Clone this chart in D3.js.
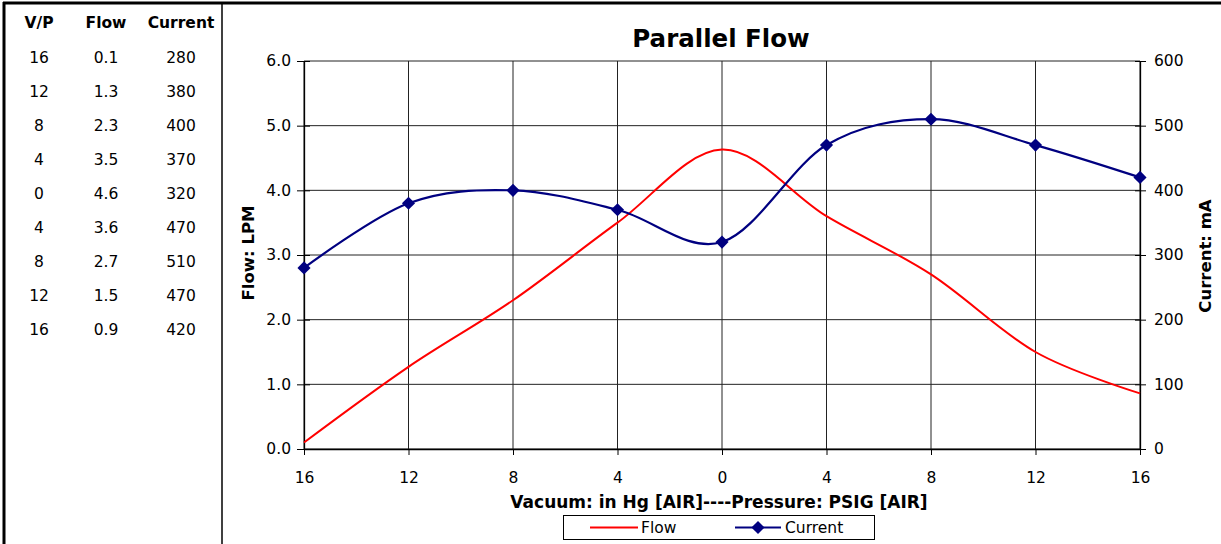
<!DOCTYPE html>
<html><head><meta charset="utf-8">
<script src="https://cdn.jsdelivr.net/npm/d3@7"></script>
<style>
body{margin:0;background:#fff;}
svg{display:block;font-family:"DejaVu Sans",Verdana,sans-serif;}
</style></head>
<body><svg id="c" width="1221" height="544"></svg>
<script>
const categories = ["16","12","8","4","0","4","8","12","16"];
const flowValues = [0.1, 1.27, 2.3, 3.5, 4.63, 3.6, 2.7, 1.5, 0.86];
const currentValues = [280, 380, 400, 370, 320, 470, 510, 470, 420];
const tableFlow = ["0.1","1.3","2.3","3.5","4.6","3.6","2.7","1.5","0.9"];
const leftTicks = [0,1,2,3,4,5,6];
const rightTicks = [0,100,200,300,400,500,600];

const FONT = "'DejaVu Sans',Verdana,sans-serif";
const svg = d3.select("#c");
const W = 1221, H = 544;
svg.append("rect").attr("width",W).attr("height",H).attr("fill","#fff");

// Table
const tbl = svg.append("g");
tbl.append("line").attr("x1",4).attr("x2",4).attr("y1",2).attr("y2",H).attr("stroke","#000").attr("stroke-width",3);
tbl.append("line").attr("x1",222).attr("x2",222).attr("y1",3).attr("y2",H).attr("stroke","#000").attr("stroke-width",1.5);
svg.append("line").attr("x1",3).attr("x2",W).attr("y1",3).attr("y2",3).attr("stroke","#000").attr("stroke-width",3);
const colX = [39,106,181];
const header = ["V/P","Flow","Current"];
header.forEach((h,i)=>tbl.append("text").attr("x",colX[i]).attr("y",28).attr("text-anchor","middle")
  .attr("font-size",15.5).attr("font-weight","bold").text(h));
categories.forEach((c,r)=>{
  const y = 63 + r*34;
  [c, tableFlow[r], String(currentValues[r])].forEach((t,i)=>tbl.append("text").attr("x",colX[i]).attr("y",y)
    .attr("text-anchor","middle").attr("font-size",15.5).text(t));
});

// Chart
const x0 = 304, x1 = 1140, yTop = 61, yBot = 449;
const x = d3.scalePoint().domain(d3.range(categories.length)).range([x0,x1]);
const yL = d3.scaleLinear().domain([0,6]).range([yBot,yTop]);
const yR = d3.scaleLinear().domain([0,600]).range([yBot,yTop]);

const g = svg.append("g");
g.selectAll(".hg").data(leftTicks).join("line").attr("x1",x0).attr("x2",x1)
  .attr("y1",d=>yL(d)).attr("y2",d=>yL(d)).attr("stroke","#222").attr("stroke-width",1);
g.selectAll(".vg").data(d3.range(categories.length)).join("line").attr("y1",yTop).attr("y2",yBot)
  .attr("x1",d=>x(d)).attr("x2",d=>x(d)).attr("stroke","#222").attr("stroke-width",1);

const axL = d3.axisLeft(yL).tickValues(leftTicks).tickFormat(d3.format(".1f")).tickSizeInner(7).tickSizeOuter(0);
const axR = d3.axisRight(yR).tickValues(rightTicks).tickFormat(d3.format("d")).tickSizeInner(6).tickSizeOuter(0);
const axB = d3.axisBottom(x).tickFormat(i=>categories[i]).tickSizeInner(6).tickSizeOuter(0);
function style(sel){
  sel.select(".domain").attr("stroke","#000").attr("stroke-width",1.3);
  sel.selectAll(".tick line").attr("stroke","#000");
  sel.selectAll(".tick text").attr("font-size",15.5).attr("fill","#000").attr("font-family",FONT);
}
const gL = g.append("g").attr("transform",`translate(${x0},0)`).call(axL).call(style);
gL.selectAll(".tick line").attr("x2",6).attr("x1",-7);
gL.selectAll(".tick text").attr("x",-13);
const gR = g.append("g").attr("transform",`translate(${x1},0)`).call(axR).call(style);
gR.selectAll(".tick line").attr("x1",-5).attr("x2",6);
gR.selectAll(".tick text").attr("x",14);
const gB = g.append("g").attr("transform",`translate(0,${yBot})`).call(axB).call(style);
gB.selectAll(".tick text").attr("y",23);

const curve = d3.curveCatmullRom.alpha(0);
const lineF = d3.line().x((d,i)=>x(i)).y(d=>yL(d)).curve(curve);
const lineC = d3.line().x((d,i)=>x(i)).y(d=>yR(d)).curve(curve);
g.append("path").attr("d",lineF(flowValues)).attr("fill","none").attr("stroke","#ff0000").attr("stroke-width",2);
g.append("path").attr("d",lineC(currentValues)).attr("fill","none").attr("stroke","#000080").attr("stroke-width",2.2);
const diamond = d3.symbol().type(d3.symbolDiamond2).size(110);
g.selectAll(".mk").data(currentValues).join("path").attr("d",diamond)
  .attr("transform",(d,i)=>`translate(${x(i)},${yR(d)})`).attr("fill","#000080");

svg.append("text").attr("x",721).attr("y",47).attr("text-anchor","middle").attr("font-size",24.5).attr("font-weight","bold").text("Parallel Flow");
svg.append("text").attr("transform","translate(254,253) rotate(-90)").attr("text-anchor","middle").attr("font-size",16.5).attr("font-weight","bold").text("Flow: LPM");
svg.append("text").attr("transform","translate(1211,256) rotate(-90)").attr("text-anchor","middle").attr("font-size",16.5).attr("font-weight","bold").text("Current: mA");
svg.append("text").attr("x",719).attr("y",508).attr("text-anchor","middle").attr("font-size",17).attr("font-weight","bold").text("Vacuum: in Hg [AIR]----Pressure: PSIG [AIR]");

const lg = svg.append("g");
lg.append("rect").attr("x",563.5).attr("y",515.5).attr("width",311).attr("height",24).attr("fill","#fff").attr("stroke","#000").attr("stroke-width",1);
lg.append("line").attr("x1",590).attr("x2",638).attr("y1",527.5).attr("y2",527.5).attr("stroke","#ff0000").attr("stroke-width",2);
lg.append("text").attr("x",641).attr("y",533).attr("font-size",15.5).text("Flow");
lg.append("line").attr("x1",735).attr("x2",781).attr("y1",527.5).attr("y2",527.5).attr("stroke","#000080").attr("stroke-width",2);
lg.append("path").attr("d",diamond).attr("transform","translate(758,527.5)").attr("fill","#000080");
lg.append("text").attr("x",785).attr("y",533).attr("font-size",15.5).text("Current");
</script></body></html>
